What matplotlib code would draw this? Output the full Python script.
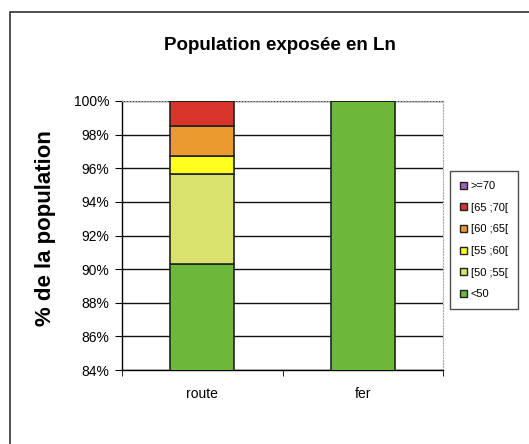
import matplotlib.pyplot as plt
import numpy as np
from matplotlib.patches import Rectangle, Patch
from matplotlib.ticker import FixedLocator

plt.rcParams['font.family'] = ['Liberation Sans', 'DejaVu Sans']

categories = ["route", "fer"]
classes = ["<50", "[50 ;55[", "[55 ;60[", "[60 ;65[", "[65 ;70[", ">=70"]
# share of population (%) per noise class, bottom to top
values = {
    "<50":      [90.3, 100.0],
    "[50 ;55[": [5.35, 0.0],
    "[55 ;60[": [1.05, 0.0],
    "[60 ;65[": [1.8, 0.0],
    "[65 ;70[": [1.5, 0.0],
    ">=70":     [0.0, 0.0],
}
colors = {
    "<50": "#6cb83a",
    "[50 ;55[": "#d8e26c",
    "[55 ;60[": "#ffff1e",
    "[60 ;65[": "#eb9a2e",
    "[65 ;70[": "#d8342c",
    ">=70": "#9b62b8",
}
yticks = np.arange(84, 101, 2)

fig = plt.figure(figsize=(5.29, 4.44), dpi=100)
# outer chart frame (only top and left edges visible)
fig.patches.append(Rectangle((10 / 529, -0.1), 1.2, 0.1 + (1 - 12 / 444),
                             transform=fig.transFigure, fill=False,
                             edgecolor="#333333", linewidth=1.2))

ax = fig.add_axes([122 / 529, 1 - 370 / 444, 321 / 529, 269 / 444])

x = np.arange(len(categories))
bottom = np.zeros(len(categories))
for cls in classes:
    v = np.array(values[cls])
    ax.bar(x, v, bottom=bottom, width=0.4, color=colors[cls],
           edgecolor="#222222", linewidth=1.2, zorder=3)
    bottom += v

ax.set_xlim(-0.5, 1.5)
ax.set_ylim(84, 100)
ax.set_yticks(yticks)
ax.set_yticklabels([f"{t}%" for t in yticks], fontsize=10)
ax.set_xticks(x)
ax.set_xticklabels(categories, fontsize=10)
ax.xaxis.set_minor_locator(FixedLocator([-0.5, 0.5, 1.5]))
ax.tick_params(axis="x", which="major", length=0, pad=12)
ax.tick_params(axis="x", which="minor", length=4, direction="out")
ax.tick_params(axis="y", length=5, direction="out", pad=4)

ax.yaxis.grid(True, color="#111111", linewidth=1.0, zorder=0)
for s in ["top", "right"]:
    ax.spines[s].set_color("#aaaaaa")
    ax.spines[s].set_linestyle(":")
ax.spines["left"].set_linewidth(1.0)
ax.spines["bottom"].set_linewidth(1.0)

fig.text(46 / 529, 1 - 228 / 444, "% de la population", rotation=90,
         ha="center", va="center", fontsize=16, fontweight="bold")
fig.text(280 / 529, 1 - 45 / 444, "Population exposée en Ln", ha="center",
         va="center", fontsize=13.5, fontweight="bold")

handles = [Patch(facecolor=colors[c], edgecolor="#222222", label=c)
           for c in reversed(classes)]
leg = fig.legend(handles=handles, loc="upper left",
                 bbox_to_anchor=(450 / 529, 1 - 171 / 444), fontsize=8,
                 frameon=True, fancybox=False, handlelength=0.6,
                 handleheight=0.6, handletextpad=0.35, labelspacing=1.05,
                 borderpad=0.9, borderaxespad=0)
leg.get_frame().set_edgecolor("#222222")
leg.get_frame().set_linewidth(1.0)

fig.savefig("out.png", dpi=100)
